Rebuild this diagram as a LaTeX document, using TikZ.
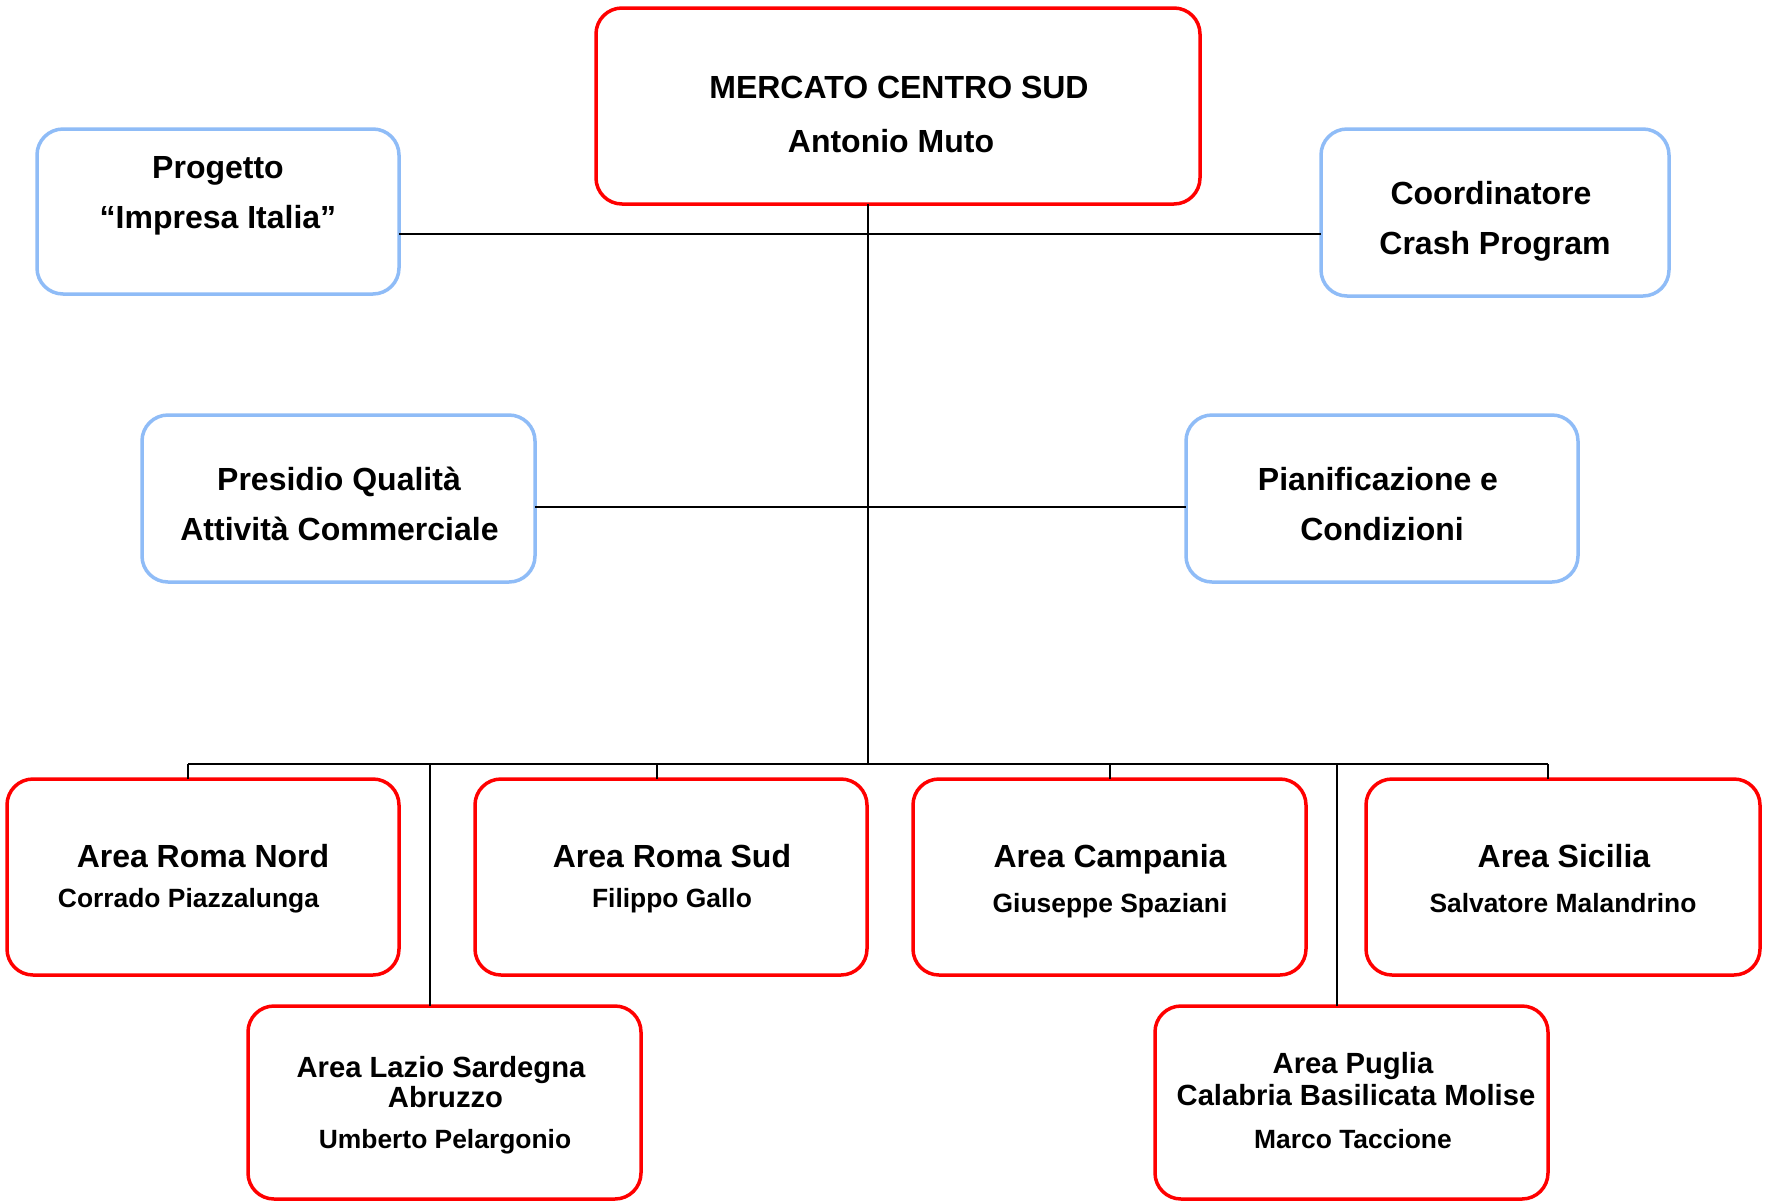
\documentclass[tikz,border=0pt]{standalone}
\usepackage{fontspec}
\setmainfont{Liberation Sans}
\definecolor{boxred}{RGB}{255,0,0}
\definecolor{boxblue}{RGB}{143,188,247}
\begin{document}
\begin{tikzpicture}[x=0.5pt,y=-0.5pt,
  box/.style={draw, rounded corners=13pt, line width=1.75pt, inner sep=0pt, outer sep=0pt, fill=white},
  redbox/.style={box, draw=boxred},
  bluebox/.style={box, draw=boxblue},
  link/.style={draw=black, line width=1pt},
  big/.style={anchor=base, inner sep=0pt, font=\fontsize{16}{19}\selectfont\bfseries},
  mid/.style={anchor=base, inner sep=0pt, font=\fontsize{14.6}{17}\selectfont\bfseries},
  small/.style={anchor=base, inner sep=0pt, font=\fontsize{13.2}{16}\selectfont\bfseries}]

\fill[white] (0,0) rectangle (1769,1201);
\useasboundingbox (0,0) rectangle (1769,1201);

% boxes
\node[redbox, minimum width=302pt, minimum height=98pt] (top) at (898,106) {};
\node[bluebox, minimum width=181pt, minimum height=82.5pt] (prog) at (218,211.5) {};
\node[bluebox, minimum width=174pt, minimum height=83.5pt] (coord) at (1495,212.5) {};
\node[bluebox, minimum width=196.5pt, minimum height=83.5pt] (pres) at (338.5,498.5) {};
\node[bluebox, minimum width=196pt, minimum height=83.5pt] (pian) at (1382,498.5) {};
\node[redbox, minimum width=196pt, minimum height=98pt] (rn) at (203,877) {};
\node[redbox, minimum width=196pt, minimum height=98pt] (rs) at (671,877) {};
\node[redbox, minimum width=196.5pt, minimum height=98pt] (ca) at (1109.5,877) {};
\node[redbox, minimum width=197pt, minimum height=98pt] (si) at (1563,877) {};
\node[redbox, minimum width=196.5pt, minimum height=96.5pt] (la) at (444.5,1102.5) {};
\node[redbox, minimum width=196.5pt, minimum height=96.5pt] (pu) at (1351.5,1102.5) {};

% junction points
\coordinate (j1) at (868,234);
\coordinate (j2) at (868,507);
\coordinate (bus) at (868,764);
\coordinate (dA) at (188,764);
\coordinate (dB) at (657,764);
\coordinate (dC) at (1110,764);
\coordinate (dD) at (1548,764);
\coordinate (lA) at (430,764);
\coordinate (lB) at (1337,764);

% connectors
\draw[link] (top.south -| bus) -- (bus);
\draw[link] (j1 -| prog.east) -- (j1 -| coord.west);
\draw[link] (j2 -| pres.east) -- (j2 -| pian.west);
\draw[link] (dA) -- (dD);
\draw[link] (dA) -- (dA |- rn.north);
\draw[link] (dB) -- (dB |- rs.north);
\draw[link] (dC) -- (dC |- ca.north);
\draw[link] (dD) -- (dD |- si.north);
\draw[link] (lA) -- (lA |- la.north);
\draw[link] (lB) -- (lB |- pu.north);

% texts
\node[big] (topA) at (899,98) {MERCATO CENTRO SUD};
\node[big] (topB) at (891,152) {Antonio Muto};
\node[big] (progA) at (218,178) {Progetto};
\node[big] (progB) at (218,228) {“Impresa Italia”};
\node[big] (coordA) at (1491,204) {Coordinatore};
\node[big] (coordB) at (1495,254) {Crash Program};
\node[big] (presA) at (339,490) {Presidio Qualità};
\node[big] (presB) at (339.5,540) {Attività Commerciale};
\node[big] (pianA) at (1378,490) {Pianificazione e};
\node[big] (pianB) at (1382,540) {Condizioni};
\node[big] (rnA) at (203,867) {Area Roma Nord};
\node[small] (rnB) at (188.5,907) {Corrado Piazzalunga};
\node[big] (rsA) at (672,867) {Area Roma Sud};
\node[small] (rsB) at (672,907) {Filippo Gallo};
\node[big] (caA) at (1110,867) {Area Campania};
\node[small] (caB) at (1110,912) {Giuseppe Spaziani};
\node[big] (siA) at (1564,867) {Area Sicilia};
\node[small] (siB) at (1563,912) {Salvatore Malandrino};
\node[mid] (laA) at (441,1077) {Area Lazio Sardegna};
\node[mid] (laB) at (445.5,1107) {Abruzzo};
\node[small] (laC) at (445,1148) {Umberto Pelargonio};
\node[mid] (puA) at (1353,1073) {Area Puglia};
\node[mid] (puB) at (1356,1105) {Calabria Basilicata Molise};
\node[small] (puC) at (1353,1148) {Marco Taccione};
\end{tikzpicture}
\end{document}
